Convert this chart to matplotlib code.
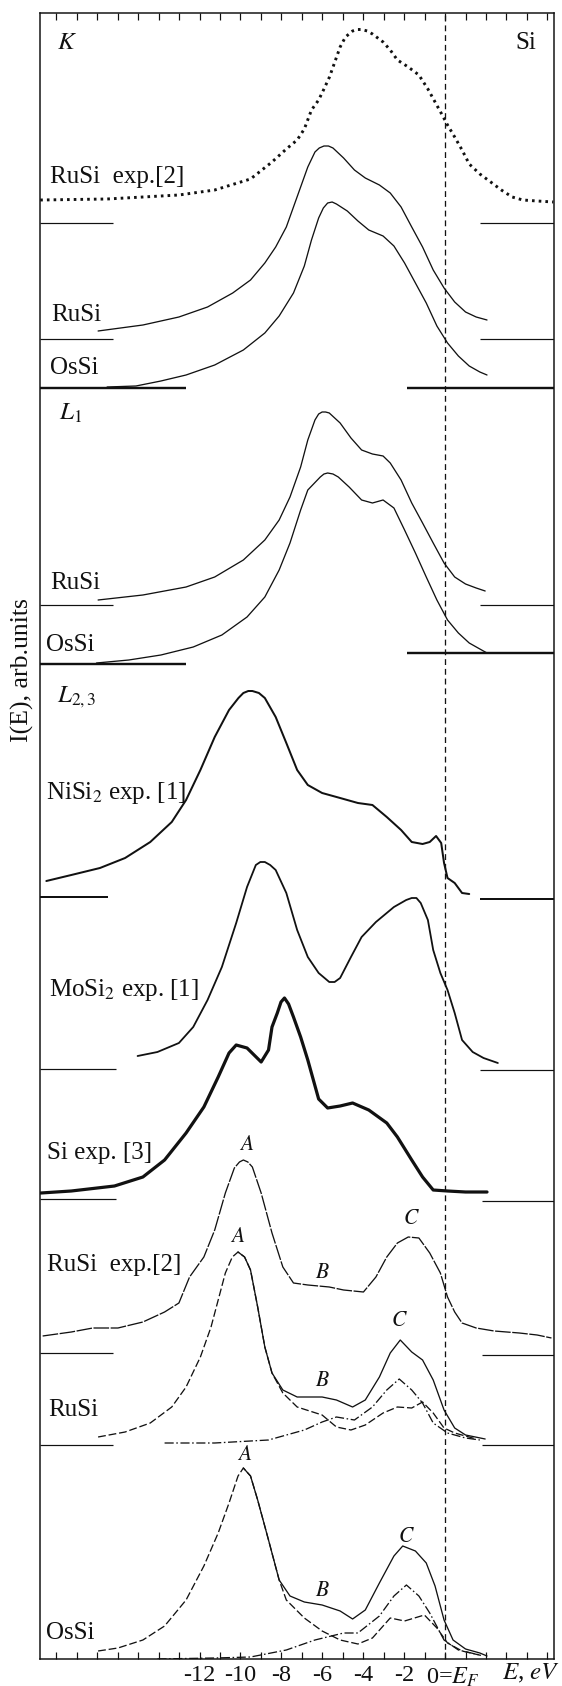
import matplotlib
matplotlib.use("Agg")
import matplotlib.pyplot as plt
import numpy as np

plt.rcParams['font.family'] = ['Liberation Serif', 'DejaVu Serif']
plt.rcParams['mathtext.fontset'] = 'stix'
plt.rcParams['axes.unicode_minus'] = False

# ---------------- data (E in eV, intensity in arb. units above baseline) ----------------
# K spectra
K_exp_E = [-19.79, -16.52, -13.01, -11.26, -9.51, -8.46, -7.76, -7.23, -6.88, -6.53, -6.18, -5.92, -5.65,
           -5.39, -5.13, -4.87, -4.52, -4.30, -4.08, -3.80, -3.55, -3.03, -2.68, -2.33, -1.80, -1.28, -0.84,
           -0.49, -0.14, 0.12, 0.47, 0.83, 1.18, 1.70, 2.23, 2.75, 3.28, 3.80, 4.50, 5.29]
K_exp_I = [23, 24, 28, 33, 44, 61, 74, 83, 94, 113, 123, 134, 146, 161, 176, 186, 192, 193.5, 193.5, 192,
           189, 181, 173, 163, 156, 148, 134, 121, 108, 98, 86, 73, 59, 49, 41, 33, 26, 23, 22, 21]

K_Ru_E = [-16.96, -14.77, -13.01, -11.61, -10.38, -9.51, -8.81, -8.28, -7.76, -7.41, -7.06, -6.71, -6.36,
          -6.15, -5.92, -5.70, -5.48, -4.96, -4.43, -3.90, -3.21, -2.68, -2.15, -1.63, -1.10, -0.58, -0.05,
          0.47, 1.00, 1.52, 2.05]
K_Ru_I = [8, 14, 22, 32, 46, 59, 76, 92, 112, 132, 152, 172, 187, 191, 193, 193, 191, 181, 169, 161, 154,
          146, 132, 112, 92, 69, 51, 37, 27, 22, 19]

K_Os_E = [-16.52, -15.11, -13.89, -12.66, -11.26, -9.86, -8.81, -8.11, -7.41, -6.88, -6.53, -6.18, -5.95,
          -5.74, -5.52, -5.31, -4.78, -4.26, -3.73, -3.03, -2.50, -1.98, -1.45, -0.92, -0.40, 0.12, 0.65,
          1.18, 1.70, 2.05]
K_Os_I = [1, 2, 7, 13, 23, 38, 55, 72, 95, 122, 148, 170, 180, 185, 186, 184, 177, 167, 158, 152, 142, 125,
          105, 85, 62, 45, 32, 22, 16, 13]

# L1 spectra
L1_Ru_E = [-16.96, -14.77, -12.66, -11.26, -9.86, -8.81, -8.11, -7.58, -7.06, -6.71, -6.36, -6.18, -6.01,
           -5.84, -5.66, -5.13, -4.60, -4.08, -3.55, -3.03, -2.68, -2.15, -1.63, -1.10, -0.58, -0.05, 0.47,
           1.00, 1.52, 1.96]
L1_Ru_I = [5, 10, 18, 28, 45, 65, 85, 108, 138, 165, 185, 191, 193, 193, 192, 182, 167, 155, 151, 149, 142,
           125, 102, 82, 62, 42, 28, 21, 17, 14]

L1_Os_E = [-17.04, -15.46, -13.89, -12.31, -10.91, -9.68, -8.81, -8.11, -7.58, -7.06, -6.71, -6.10, -5.92,
           -5.74, -5.48, -5.22, -4.69, -4.08, -3.55, -3.03, -2.50, -1.98, -1.45, -0.92, -0.40, 0.12, 0.65,
           1.18, 1.70, 2.05]
L1_Os_I = [1, 4, 9, 17, 29, 47, 67, 94, 121, 154, 174, 187, 190, 191, 190, 187, 177, 164, 161, 164, 156, 134,
           111, 87, 64, 44, 31, 21, 15, 11]

# L2,3 experimental spectra
Ni_E = [-19.49, -18.27, -16.87, -15.64, -14.41, -13.36, -12.66, -11.96, -11.26, -10.56, -10.10, -9.86, -9.62,
        -9.42, -9.10, -8.81, -8.28, -7.76, -7.23, -6.71, -6.01, -5.13, -4.26, -3.55, -2.85, -2.15, -1.63,
        -1.10, -0.75, -0.44, -0.19, -0.05, 0.12, 0.47, 0.83, 1.18]
Ni_I = [16, 22, 29, 39, 55, 75, 97, 127, 160, 187, 199, 204, 206, 206, 204, 199, 180, 154, 127, 112, 104, 99,
        94, 92, 80, 67, 55, 53, 55, 61, 54, 34, 19, 14, 4, 3]

Mo_E = [-15.03, -14.06, -13.01, -12.31, -11.61, -10.91, -10.21, -9.68, -9.25, -9.03, -8.81, -8.55, -8.28,
        -7.76, -7.23, -6.71, -6.18, -5.66, -5.40, -5.13, -4.60, -4.08, -3.38, -2.50, -1.90, -1.63, -1.40,
        -1.19, -0.84, -0.58, -0.23, 0.12, 0.47, 0.83, 1.35, 1.88, 2.58]
Mo_I = [13, 17, 26, 42, 69, 102, 146, 182, 204, 207, 207, 204, 199, 176, 139, 112, 96, 87, 87, 91, 112, 132,
        147, 162, 169, 171, 171, 166, 149, 119, 96, 79, 56, 29, 17, 11, 6]

Si_E = [-19.76, -18.27, -16.16, -14.77, -13.71, -12.66, -11.79, -11.09, -10.56, -10.21, -9.68, -8.99, -8.63,
        -8.46, -8.20, -8.02, -7.85, -7.65, -7.41, -7.06, -6.71, -6.18, -5.74, -5.13, -4.52, -3.73, -2.85,
        -2.33, -1.63, -1.10, -0.58, 0.12, 1.00, 2.05]
Si_I = [6, 8, 13, 22, 39, 66, 92, 122, 146, 154, 151, 137, 149, 172, 186, 197, 201, 195, 182, 162, 139, 100,
        91, 93, 96, 89, 76, 62, 39, 22, 9, 8, 7, 7]

RuX_E = [-19.67, -18.27, -17.22, -15.99, -14.77, -13.71, -13.01, -12.49, -11.79, -11.26, -10.74, -10.30,
         -10.05, -9.86, -9.64, -9.42, -8.99, -8.46, -7.93, -7.41, -6.71, -5.66, -4.96, -3.99, -3.38, -2.85,
         -2.33, -1.80, -1.28, -0.75, -0.23, 0.12, 0.47, 0.83, 1.52, 2.40, 3.63, 4.50, 5.20]
RuX_I = [17, 21, 25, 25, 31, 41, 50, 76, 96, 123, 160, 185, 191, 193, 191, 186, 160, 120, 86, 70, 68, 66, 63,
         61, 76, 96, 110, 116, 115, 100, 80, 56, 41, 30, 25, 22, 20, 18, 15]

# L2,3 theoretical: total (solid), s-part (dashed), d-part (dash-dot)
RuT_E = [-10.12, -9.80, -9.51, -9.16, -8.81, -8.46, -7.93, -7.23, -6.01, -5.31, -4.52, -3.90, -3.21, -2.68,
         -2.19, -1.63, -1.10, -0.58, -0.05, 0.47, 1.00, 1.96]
RuT_I = [193, 188, 175, 138, 98, 72, 55, 48, 48, 45, 38, 45, 68, 92, 105, 93, 85, 65, 35, 17, 10, 6]
RuS_E = [-16.96, -15.64, -14.41, -13.36, -12.66, -11.96, -11.44, -11.09, -10.74, -10.40, -10.12, -9.80, -9.51,
         -9.16, -8.81, -8.46, -7.93, -7.23, -6.01, -5.31, -4.60, -3.90, -3.03, -2.33, -1.63, -1.10, -0.58,
         -0.05, 0.47, 1.52]
RuS_I = [8, 13, 22, 38, 58, 88, 118, 145, 172, 188, 193, 188, 175, 138, 98, 72, 52, 38, 30, 18, 15, 20, 32,
         38, 37, 43, 32, 17, 12, 6]
RuD_E = [-13.71, -11.26, -8.63, -6.88, -6.01, -5.31, -4.43, -3.55, -2.85, -2.24, -1.63, -1.10, -0.58, 0.12,
         1.00, 1.70]
RuD_I = [2, 2, 5, 15, 23, 28, 25, 38, 55, 66, 55, 42, 22, 12, 7, 5]

OsT_E = [-9.86, -9.51, -9.16, -8.63, -8.11, -7.58, -6.88, -6.01, -5.13, -4.52, -3.90, -3.21, -2.50, -2.07,
         -1.45, -0.92, -0.49, -0.05, 0.39, 1.00, 1.70, 2.05]
OsT_I = [191, 183, 159, 119, 79, 63, 57, 54, 48, 40, 49, 76, 103, 113, 108, 96, 73, 39, 19, 10, 6, 3]
OsS_E = [-16.96, -15.99, -14.77, -13.71, -12.66, -11.79, -11.09, -10.56, -10.12, -9.86, -9.51, -9.16, -8.63,
         -8.11, -7.76, -6.88, -6.01, -5.13, -4.26, -3.55, -2.68, -1.98, -1.01, -0.40, 0.12, 0.83, 1.88]
OsS_I = [8, 11, 19, 33, 59, 93, 126, 156, 183, 191, 183, 159, 119, 79, 59, 41, 28, 19, 15, 21, 41, 38, 44,
         31, 16, 8, 3]
OsD_E = [-14.06, -11.26, -9.51, -7.76, -6.36, -4.96, -4.26, -3.21, -2.50, -1.89, -1.28, -0.75, -0.05, 0.65, 1.70]
OsD_I = [0, 1, 2, 9, 19, 26, 26, 43, 63, 74, 63, 46, 19, 9, 4]

# baselines (vertical offsets, arb. units)
offsets = {"K_exp": 1436, "K_Ru": 1320, "K_Os": 1271, "L1_Ru": 1054, "L1_Os": 995,
           "Ni": 762, "Mo": 590, "Si": 460, "RuX": 306, "Ru": 214, "Os": 0}

tick_positions = list(range(-19, 6))
labeled_ticks = [-12, -10, -8, -6, -4, -2]

# ---------------- figure ----------------
W, H = 562, 1686
fig = plt.figure(figsize=(W / 100, H / 100), dpi=100)
ax = fig.add_axes([40 / W, (H - 1659) / H, (553.5 - 40) / W, (1659 - 13) / H])
ax.set_xlim(-19.8, 5.3)
ax.set_ylim(0, 1646)

C = '#111111'
px = 0.72  # points per pixel


def curve(E, I, off, **kw):
    ax.plot(E, np.asarray(I) + off, color=C, solid_capstyle='round', solid_joinstyle='round', **kw)


# K panel
curve(K_exp_E, K_exp_I, offsets["K_exp"], lw=2.1, ls=(0, (0.9, 1.4)))
curve(K_Ru_E, K_Ru_I, offsets["K_Ru"], lw=1.3 * px)
curve(K_Os_E, K_Os_I, offsets["K_Os"], lw=1.3 * px)
# L1 panel
curve(L1_Ru_E, L1_Ru_I, offsets["L1_Ru"], lw=1.3 * px)
curve(L1_Os_E, L1_Os_I, offsets["L1_Os"], lw=1.3 * px)
# L2,3 experimental
curve(Ni_E, Ni_I, offsets["Ni"], lw=2.0 * px)
curve(Mo_E, Mo_I, offsets["Mo"], lw=1.8 * px)
curve(Si_E, Si_I, offsets["Si"], lw=3.2 * px)
curve(RuX_E, RuX_I, offsets["RuX"], lw=1.3 * px, ls=(0, (12, 1.2)))
# L2,3 theory
dash = (0, (6, 2.2))
dashdot = (0, (7, 2, 1.2, 2))
curve(RuS_E, RuS_I, offsets["Ru"], lw=1.3 * px, ls=dash)
curve(RuT_E, RuT_I, offsets["Ru"], lw=1.3 * px)
curve(RuD_E, RuD_I, offsets["Ru"], lw=1.3 * px, ls=dashdot)
curve(OsS_E, OsS_I, offsets["Os"], lw=1.3 * px, ls=dash)
curve(OsT_E, OsT_I, offsets["Os"], lw=1.3 * px)
curve(OsD_E, OsD_I, offsets["Os"], lw=1.3 * px, ls=dashdot)

# baseline segments (left piece, right piece)
seg = [
    (offsets["K_exp"], -16.25, offsets["K_exp"], 1.70, 1.2),
    (offsets["K_Ru"], -16.25, offsets["K_Ru"], 1.70, 1.2),
    (offsets["K_Os"], -12.66, offsets["K_Os"], -1.84, 2.4),
    (offsets["L1_Ru"], -16.25, offsets["L1_Ru"], 1.70, 1.2),
    (offsets["L1_Os"], -12.66, offsets["L1_Os"] + 11, -1.84, 2.4),
    (offsets["Ni"], -16.50, offsets["Ni"] - 2, 1.70, 2.0),
    (offsets["Mo"], -16.08, offsets["Mo"] - 1, 1.70, 1.2),
    (offsets["Si"], -16.08, offsets["Si"] - 2, 1.79, 1.2),
    (offsets["RuX"], -16.25, offsets["RuX"] - 2, 1.79, 1.2),
    (offsets["Ru"], -16.25, offsets["Ru"], 1.79, 1.2),
]
for yl, xl, yr, xr, w in seg:
    ax.plot([-19.8, xl], [yl, yl], color=C, lw=w * px, solid_capstyle='butt')
    ax.plot([xr, 5.3], [yr, yr], color=C, lw=w * px, solid_capstyle='butt')

# Fermi level
ax.axvline(0, color=C, lw=1.0 * px * 1.3, ls=(0, (4.5, 3)))

# labels
fs = 18
names = [("$K$", -18.97, 1616), ("Si", 3.45, 1616), ("RuSi  exp.[2]", -19.32, 1482),
         ("RuSi", -19.23, 1344), ("OsSi", -19.32, 1291), ("$L_1$", -18.88, 1246),
         ("RuSi", -19.32, 1076), ("OsSi", -19.49, 1014), ("$L_{2,3}$", -18.97, 962),
         ("NiSi$_2$ exp. [1]", -19.53, 866), ("MoSi$_2$ exp. [1]", -19.35, 669),
         ("Si exp. [3]", -19.44, 506), ("RuSi  exp.[2]", -19.44, 394), ("RuSi", -19.40, 249),
         ("OsSi", -19.49, 26)]
for t, x, y in names:
    ax.text(x, y, t, fontsize=fs, ha='left', va='center', color=C)

letters = [("$A$", -9.68, 514), ("$B$", -6.0, 386), ("$C$", -1.63, 439),
           ("$A$", -10.12, 422), ("$B$", -6.0, 277), ("$C$", -2.24, 337),
           ("$A$", -9.81, 204), ("$B$", -6.0, 67), ("$C$", -1.89, 122)]
for t, x, y in letters:
    ax.text(x, y, t, fontsize=15.5, ha='center', va='center', color=C)

# axes styling
for s in ax.spines.values():
    s.set_linewidth(1.5 * px)
    s.set_color(C)
ax.set_yticks([])
ax.set_xticks(tick_positions)
ax.set_xticklabels([str(t) if t in labeled_ticks else '' for t in tick_positions], fontsize=17.5)
ax.tick_params(axis='x', direction='in', top=True, length=5 * px * 1.4, width=1.2 * px, pad=4, colors=C)
ax.text(-0.95, -0.004, "0=$E_F$", transform=ax.get_xaxis_transform(), fontsize=17.5, ha='left', va='top', color=C)
fig.text(502 / W, 1 - 1673 / H, "$E$, $eV$", fontsize=18, ha='left', va='center', color=C)
fig.text(22 / W, 1 - 670 / H, "I(E), arb.units", rotation=90, fontsize=18.5, ha='center', va='center', color=C)

fig.savefig("out.png", dpi=100)
